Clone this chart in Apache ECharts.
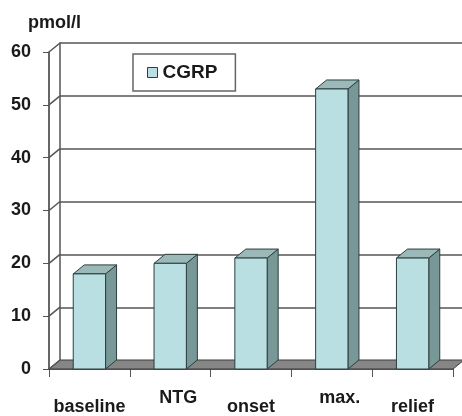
<!DOCTYPE html>
<html>
<head>
<meta charset="utf-8">
<script src="https://cdn.jsdelivr.net/npm/echarts@6/dist/echarts.min.js"></script>
<style>
  html, body { margin: 0; padding: 0; background: #fff; }
  #chart { width: 462px; height: 416px; }
</style>
</head>
<body>
<div id="chart"></div>
<script>
var categories = ['baseline', 'NTG', 'onset', 'max.', 'relief'];
var cgrpValues = [18, 20, 21, 53, 21];
var yTicks = [0, 10, 20, 30, 40, 50, 60];

// depth of the fake 3d look, in pixels
var DX = 11, DY = 9;
var FONT = 'Liberation Sans, Arial, sans-serif';

function floorItem(params, api) {
  var cs = params.coordSys;
  var y0 = api.coord([0, 0])[1];
  var x0 = cs.x, x1 = cs.x + cs.width;
  return {
    type: 'polygon',
    shape: { points: [[x0, y0], [x0 + DX, y0 - DY], [x1 + DX, y0 - DY], [x1, y0]] },
    style: { fill: '#868686', stroke: '#3a3a3a', lineWidth: 1 }
  };
}

function sideWallItem(params, api) {
  var cs = params.coordSys;
  var y = api.coord([0, api.value(1)])[1];
  return {
    type: 'line',
    shape: { x1: cs.x, y1: y, x2: cs.x + DX, y2: y - DY },
    style: { stroke: '#555', lineWidth: 1.5 }
  };
}

function barItem(params, api) {
  var top = api.coord([api.value(0), api.value(1)]);
  var base = api.coord([api.value(0), 0]);
  var w = api.size([1, 0])[0] * 0.4;
  var xl = top[0] - w / 2, xr = top[0] + w / 2;
  var yt = top[1], yb = base[1];
  return {
    type: 'group',
    children: [
      {
        type: 'polygon',
        shape: { points: [[xr, yt], [xr + DX, yt - DY], [xr + DX, yb - DY], [xr, yb]] },
        style: { fill: '#789797', stroke: '#2c3e3e', lineWidth: 1 }
      },
      {
        type: 'polygon',
        shape: { points: [[xl, yt], [xl + DX, yt - DY], [xr + DX, yt - DY], [xr, yt]] },
        style: { fill: '#9bb9b9', stroke: '#2c3e3e', lineWidth: 1 }
      },
      {
        type: 'rect',
        shape: { x: xl, y: yt, width: w, height: yb - yt },
        style: { fill: '#badfe2', stroke: '#2c3e3e', lineWidth: 1 }
      }
    ]
  };
}

var option = {
  animation: false,
  backgroundColor: '#fff',
  textStyle: { fontFamily: FONT },
  title: {
    text: 'pmol/l',
    left: 23, top: 9,
    textStyle: { fontFamily: FONT, fontSize: 18, fontWeight: 'bold', color: '#1a1a1a' }
  },
  legend: {
    data: [{ name: 'CGRP', icon: 'rect', itemStyle: { color: '#badfe2', borderColor: '#2c3e3e', borderWidth: 1 } }],
    left: 133, top: 54,
    itemWidth: 10, itemHeight: 10, itemGap: 6,
    padding: [9, 18, 9, 14],
    borderColor: '#666', borderWidth: 1.5,
    textStyle: { fontFamily: FONT, fontSize: 19, fontWeight: 'bold', color: '#1a1a1a', lineHeight: 17 }
  },
  grid: [
    { left: 49, top: 52, width: 404, height: 318 },
    { left: 60, top: 43, width: 402, height: 318 }
  ],
  xAxis: [
    {
      type: 'category', gridIndex: 0, data: categories,
      axisLine: { lineStyle: { color: '#333', width: 1.5 } },
      axisTick: { show: true, length: 8, lineStyle: { color: '#555' } },
      axisLabel: {
        margin: 20, interval: 0,
        formatter: function (v, i) { return i % 2 ? '{hi|' + v + '}' : '{lo|' + v + '}'; },
        rich: {
          hi: { fontFamily: FONT, fontSize: 18, fontWeight: 'bold', color: '#1a1a1a', padding: [0, 0, 0, 16] },
          lo: { fontFamily: FONT, fontSize: 18, fontWeight: 'bold', color: '#1a1a1a', padding: [9, 0, 0, 0] }
        }
      },
      splitLine: { show: false }
    },
    { type: 'value', gridIndex: 1, min: 0, max: 1, show: false }
  ],
  yAxis: [
    {
      type: 'value', gridIndex: 0, min: 0, max: 60, interval: 10,
      axisLine: { show: true, lineStyle: { color: '#333', width: 1.5 } },
      axisTick: { show: true, length: 6, lineStyle: { color: '#555' } },
      axisLabel: { margin: 18, fontFamily: FONT, fontSize: 18, fontWeight: 'bold', color: '#1a1a1a' },
      splitLine: { show: false }
    },
    {
      type: 'value', gridIndex: 1, min: 0, max: 60, interval: 10,
      axisLine: { show: true, lineStyle: { color: '#555', width: 1.5 } },
      axisTick: { show: false },
      axisLabel: { show: false },
      splitLine: { show: true, lineStyle: { color: '#555', width: 1.5 } }
    }
  ],
  series: [
    {
      type: 'custom', xAxisIndex: 0, yAxisIndex: 0, z: 3,
      data: [[0, 0]],
      renderItem: floorItem, silent: true
    },
    {
      type: 'custom', xAxisIndex: 0, yAxisIndex: 0, z: 3,
      data: yTicks.map(function (v) { return [0, v]; }),
      renderItem: sideWallItem, silent: true
    },
    {
      name: 'CGRP', type: 'custom', xAxisIndex: 0, yAxisIndex: 0, z: 5,
      data: cgrpValues.map(function (v, i) { return [i, v]; }),
      encode: { x: 0, y: 1 },
      renderItem: barItem
    }
  ]
};

var chart = echarts.init(document.getElementById('chart'));
chart.setOption(option);
</script>
</body>
</html>
